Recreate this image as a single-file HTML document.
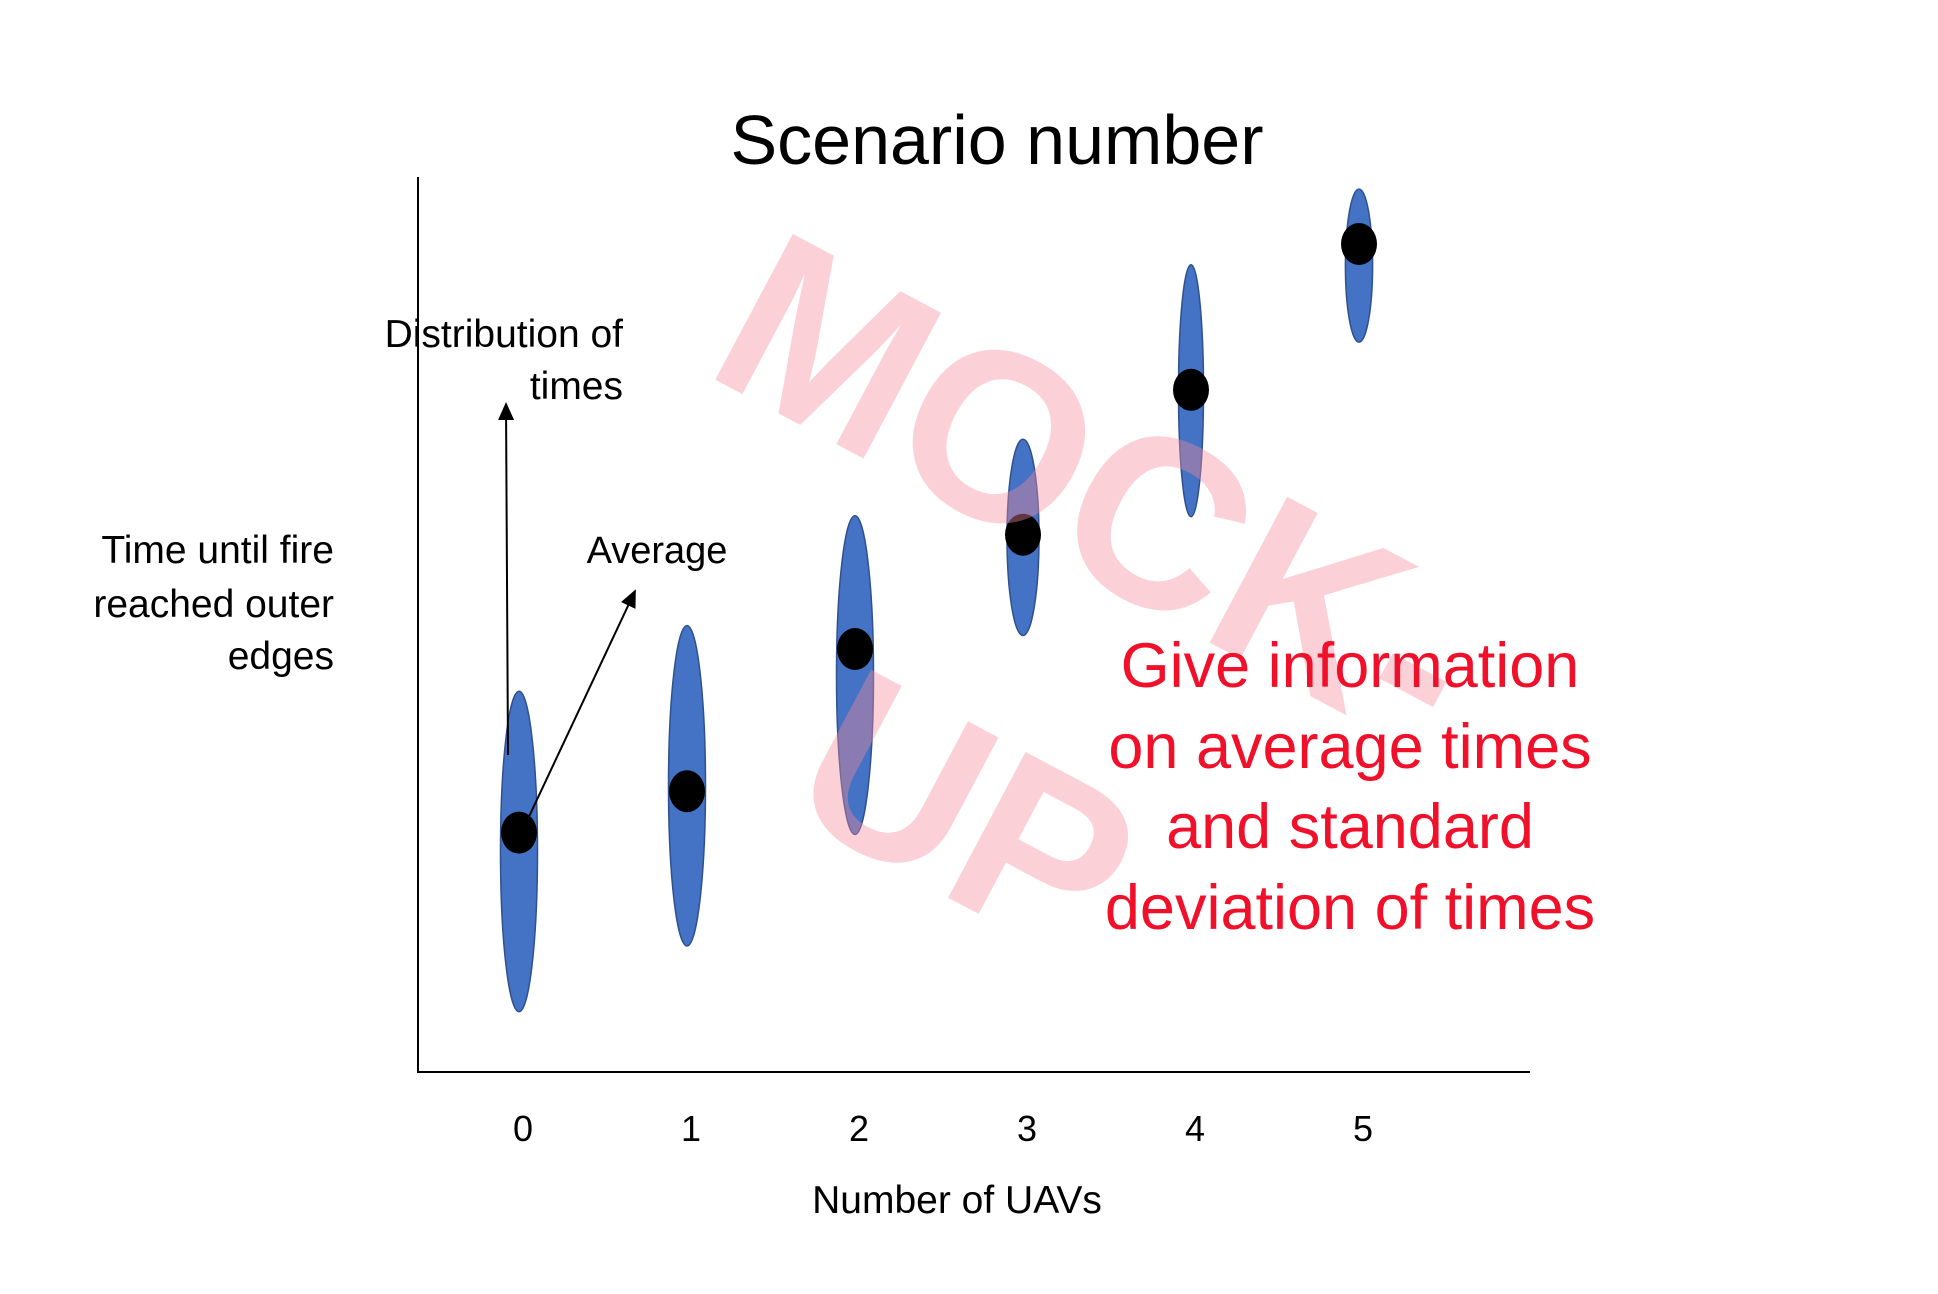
<!DOCTYPE html>
<html><head><meta charset="utf-8"><style>
html,body{margin:0;padding:0;background:#fff;}
svg{display:block;font-family:"Liberation Sans",sans-serif;}
</style></head><body>
<svg id="chart" width="1938" height="1294" viewBox="0 0 1938 1294" xmlns="http://www.w3.org/2000/svg">
<defs><marker id="ah" markerWidth="10" markerHeight="10" refX="8" refY="5" orient="auto"><path d="M0,1 L9,5 L0,9 z" fill="#000"/></marker></defs>
<text x="997" y="164" font-size="70" text-anchor="middle" fill="#000">Scenario number</text>
<line x1="418" y1="177" x2="418" y2="1073" stroke="#000" stroke-width="2"/>
<line x1="417" y1="1072" x2="1530" y2="1072" stroke="#000" stroke-width="2"/>
<g id="ticks"></g>
<text x="957" y="1213" font-size="39" text-anchor="middle">Number of UAVs</text>
<g font-size="39" text-anchor="end">
<text x="334" y="563">Time until fire</text><text x="334" y="617">reached outer</text><text x="334" y="669">edges</text></g>
<g font-size="39" text-anchor="end">
<text x="623" y="347">Distribution of</text><text x="623" y="399">times</text></g>
<text x="657" y="563" font-size="38" text-anchor="middle">Average</text>
<g id="marks"></g>
<line x1="508" y1="755" x2="506" y2="404" stroke="#000" stroke-width="2" marker-end="url(#ah)"/>
<line x1="526" y1="823" x2="635" y2="591" stroke="#000" stroke-width="2" marker-end="url(#ah)"/>
<g fill="rgba(244,140,155,0.4)" font-weight="bold" font-size="240" text-anchor="middle">
<text transform="translate(1100,488) rotate(28)" y="85">MOCK-</text>
<text transform="translate(968,812) rotate(28)" y="85">UP</text></g>
<g fill="#f0102a" font-size="63" text-anchor="middle">
<text x="1350" y="687">Give information</text><text x="1350" y="768">on average times</text>
<text x="1350" y="848">and standard</text><text x="1350" y="929">deviation of times</text></g>
</svg>
<script>
const categories=[0,1,2,3,4,5];
const averages=[26.6,31.2,47.0,59.7,75.8,92.0];
const distCenters=[24.5,31.8,44.1,59.4,75.7,89.6];
const distHalfSpread=[17.8,17.8,17.7,10.9,14.0,8.5];
const tickLabels=["0","1","2","3","4","5"];
const NS="http://www.w3.org/2000/svg";
function xs(i){return 519+i*168;}
function ys(v){return 1072-v*9;}
function vlen(v){return v*9;}
const widths=[18.5,18.5,18.5,16,12.5,13.6];
const marks=document.getElementById('marks');
const ticks=document.getElementById('ticks');
categories.forEach((c,i)=>{
  const t=document.createElementNS(NS,'text');
  
  
  t.setAttribute('x',xs(i)+4);t.setAttribute('y',1141);
  t.setAttribute('font-size','36');t.setAttribute('text-anchor','middle');
  t.textContent=tickLabels[i];ticks.appendChild(t);
  const e=document.createElementNS(NS,'ellipse');
  
  
  e.setAttribute('cx',xs(i));e.setAttribute('cy',ys(distCenters[i]));
  e.setAttribute('rx',widths[i]);e.setAttribute('ry',vlen(distHalfSpread[i]));
  e.setAttribute('fill','#4472c4');e.setAttribute('stroke','#2f528f');e.setAttribute('stroke-width','1.5');
  marks.appendChild(e);
});
categories.forEach((c,i)=>{
  const d=document.createElementNS(NS,'ellipse');
  
  
  d.setAttribute('cx',xs(i));d.setAttribute('cy',ys(averages[i]));
  d.setAttribute('rx',18);d.setAttribute('ry',21);d.setAttribute('fill','#000');
  marks.appendChild(d);
});
</script>
</body></html>
